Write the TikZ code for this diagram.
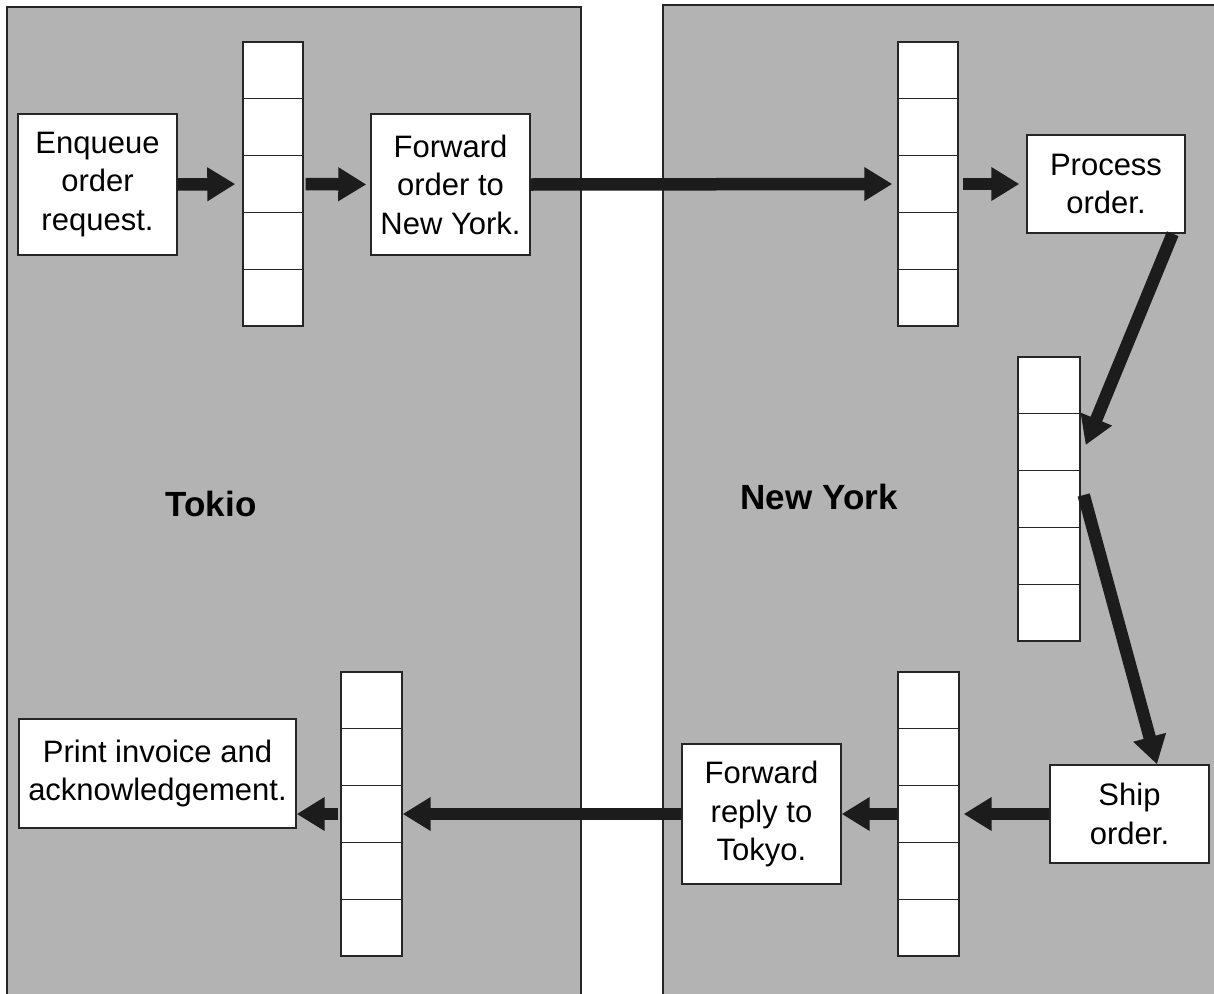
\documentclass[tikz,border=0pt]{standalone}
\usepackage{fontspec}
\setmainfont{Liberation Sans}
\usetikzlibrary{arrows.meta,calc}
\definecolor{panelgray}{HTML}{B3B3B3}
\definecolor{arrowdark}{HTML}{1C1C1C}
\begin{document}
\begin{tikzpicture}[x=1pt,y=-1pt,
  panel/.style={fill=panelgray,draw=black!85,line width=2pt},
  stepbox/.style={draw=black!85,fill=white,line width=1.4pt,inner sep=0pt,align=center,
    font=\fontsize{31}{38.5}\selectfont},
  queue/.style={draw=black!85,fill=white,line width=1.4pt,inner sep=0pt,
    minimum width=60pt,minimum height=284pt},
  site/.style={font=\fontsize{35}{40}\selectfont\bfseries},
  flow/.style={draw=arrowdark,line width=12.5pt,
    -{Triangle[width=32pt,length=28pt,fill=arrowdark]}}
]
\useasboundingbox (0,0) rectangle (1214,993);
\clip (0,0) rectangle (1214,993);

% the two sites
\path[panel] (7,7) rectangle (581,1010);
\path[panel] (663,5) rectangle (1230,1010);
\node[site] (tokio) at (211,504) {Tokio};
\node[site] (newyork) at (819,497) {New York};

% processing steps
\node[stepbox,minimum width=159pt,minimum height=141pt] (enq) at (97.5,184.5) {Enqueue\\order\\request.};
\node[stepbox,minimum width=159pt,minimum height=141pt] (fwd) at (450.5,184.5) {Forward\\order to\\New York.};
\node[stepbox,minimum width=158pt,minimum height=98pt] (proc) at (1106,184) {Process\\order.};
\node[stepbox,minimum width=159pt,minimum height=98pt] (ship) at (1129.5,814) {Ship\\order.};
\node[stepbox,minimum width=159pt,minimum height=140pt] (frep) at (761.5,814) {Forward\\reply to\\Tokyo.};
\node[stepbox,minimum width=277pt,minimum height=109pt] (print) at (157.5,773.5) {Print invoice and\\acknowledgement.};

% message queues
\node[queue] (q1) at (273,184) {};
\node[queue] (q2) at (928,184) {};
\node[queue,minimum width=62pt] (q3) at (1049,499) {};
\node[queue,minimum width=61pt] (q4) at (928.5,814) {};
\node[queue,minimum width=61pt] (q5) at (371.5,814) {};
\foreach \q in {q1,q2,q3,q4,q5}
  \foreach \i in {1,2,3,4}
    \draw[black!85,line width=1.4pt]
      ($(\q.north west)!\i/5!(\q.south west)$) -- ($(\q.north east)!\i/5!(\q.south east)$);

% order flow
\draw[flow,shorten >=7pt] (enq.east) -- (q1.west);
\draw[flow,shorten <=2pt,shorten >=4pt] (q1.east) -- (fwd.west);
\draw[flow,shorten >=5pt] (fwd.east) -- (q2.west);
\draw[flow,shorten <=4pt,shorten >=7pt] (q2.east) -- (proc.west);
\draw[flow] ($(proc.south east)+(-13,0)$) -- ($(q3.east)+(5,-54)$);
\draw[flow] ($(q3.east)+(3,-4)$) -- ($(ship.north)+(27.5,0)$);

% reply flow
\draw[flow,shorten >=4pt] (ship.west) -- (q4.east);
\draw[flow] (q4.west) -- (frep.east);
\draw[flow] (frep.west) -- (q5.east);
\draw[flow,shorten <=2pt] (q5.west) -- (q5.west -| print.east);
\end{tikzpicture}
\end{document}
